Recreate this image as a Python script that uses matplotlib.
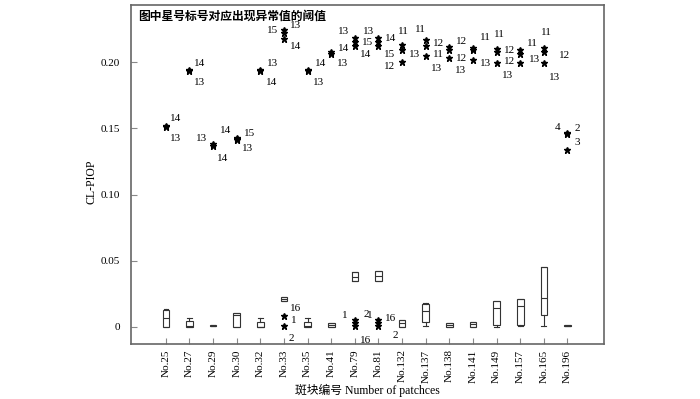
import matplotlib
matplotlib.use("Agg")
import matplotlib.pyplot as plt

plt.rcParams['font.family'] = ['Liberation Serif', 'Noto Sans CJK SC']
plt.rcParams['font.size'] = 8

patches = ['No.25', 'No.27', 'No.29', 'No.30', 'No.32', 'No.33', 'No.35', 'No.41', 'No.79',
           'No.81', 'No.132', 'No.137', 'No.138', 'No.141', 'No.149', 'No.157', 'No.165', 'No.196']

# box statistics
whislo = [0.0000, 0.0003, 0.0005, 0.0000, 0.0000, 0.0200, 0.0003, 0.0003, 0.0345,
          0.0345, 0.0003, 0.0008, 0.0003, 0.0003, 0.0000, 0.0010, 0.0010, 0.0005]
q1 = [0.0003, 0.0003, 0.0005, 0.0001, 0.0001, 0.0200, 0.0003, 0.0003, 0.0345,
      0.0345, 0.0003, 0.0040, 0.0003, 0.0003, 0.0015, 0.0015, 0.0090, 0.0005]
med = [0.0068, 0.0004, 0.0010, 0.0092, 0.0002, 0.0212, 0.0004, 0.0015, 0.0380,
       0.0385, 0.0028, 0.0120, 0.0018, 0.0025, 0.0141, 0.0160, 0.0220, 0.0010]
q3 = [0.0125, 0.0045, 0.0015, 0.0108, 0.0035, 0.0225, 0.0040, 0.0030, 0.0415,
      0.0420, 0.0050, 0.0175, 0.0033, 0.0040, 0.0196, 0.0210, 0.0452, 0.0015]
whishi = [0.0135, 0.0070, 0.0015, 0.0108, 0.0070, 0.0225, 0.0070, 0.0030, 0.0415,
          0.0420, 0.0050, 0.0180, 0.0033, 0.0040, 0.0196, 0.0210, 0.0452, 0.0015]

# outliers: (patch index, value, label)
outliers = [
    (0, 0.1520, '14'), (0, 0.1510, '13'),
    (1, 0.1940, '14'), (1, 0.1930, '13'),
    (2, 0.1380, '13'), (2, 0.1370, '14'),
    (3, 0.1430, '14'), (3, 0.1420, '15'), (3, 0.1410, '13'),
    (4, 0.1940, '13'), (4, 0.1930, '14'),
    (5, 0.2240, '15'), (5, 0.2217, '13'), (5, 0.2172, '14'),
    (5, 0.0083, '1'), (5, 0.0008, '2'),
    (6, 0.1940, '14'), (6, 0.1930, '13'),
    (7, 0.2075, '14'), (7, 0.2065, '13'),
    (8, 0.2180, '13'), (8, 0.2150, '15'), (8, 0.2120, '14'),
    (8, 0.0055, '1'), (8, 0.0030, '2'), (8, 0.0010, '16'),
    (9, 0.2180, '13'), (9, 0.2150, '14'), (9, 0.2120, '15'),
    (9, 0.0055, '1'), (9, 0.0030, '16'), (9, 0.0010, '2'),
    (10, 0.2126, '11'), (10, 0.2089, '13'), (10, 0.1998, '12'),
    (11, 0.2164, '11'), (11, 0.2119, '12'), (11, 0.2043, '13'),
    (12, 0.2111, '12'), (12, 0.2089, '11'), (12, 0.2028, '13'),
    (13, 0.2110, '11'), (13, 0.2090, '12'), (13, 0.2013, '13'),
    (14, 0.2096, '11'), (14, 0.2074, '12'), (14, 0.1990, '13'),
    (15, 0.2089, '11'), (15, 0.2058, '12'), (15, 0.1990, '13'),
    (16, 0.2110, '11'), (16, 0.2080, '12'), (16, 0.1990, '13'),
    (17, 0.1465, '4'), (17, 0.1455, '2'), (17, 0.1340, '3'),
]
# label offsets in points, same order as outliers
label_offsets = [
    (3, 5), (3, -8),
    (3, 5), (3, -8),
    (-12, 4), (3, -9),
    (-12, 5), (5, 4), (4, -6),
    (5, 5), (4, -8),
    (-12, 0), (4, 6), (4, -5),
    (5, -3), (3, -9),
    (5, 5), (4, -8),
    (5, 3), (4, -7),
    (-12, 5), (5, 0), (4, -6),
    (-9, 3), (6, 6), (4, -11),
    (-11, 5), (5, 3), (4, -6),
    (-8, 3), (5, 3), (10, -7),
    (-3, 10), (5, -3), (-13, -3),
    (-8, 8), (5, 2), (4, -9),
    (5, 4), (-12, -3), (4, -9),
    (5, 7), (-12, -6), (5, -2),
    (-2, 11), (5, 1), (4, -9),
    (5, 5), (-12, -5), (6, 3),
    (-2, 11), (11, -3), (4, -10),
    (-9, 4), (5, 4), (5, 5),
]
box_label = (5, 0.0212, '16')

fig = plt.figure(figsize=(7, 3.99), dpi=100)
ax = fig.add_axes([0.187, 0.138, 0.676, 0.849])

stats = []
for i in range(len(patches)):
    stats.append(dict(whislo=whislo[i], q1=q1[i], med=med[i], q3=q3[i], whishi=whishi[i], fliers=[]))

edge = '#333333'
ax.bxp(stats, positions=range(len(patches)), widths=0.28, patch_artist=True,
       boxprops=dict(facecolor='white', edgecolor=edge, linewidth=0.8),
       medianprops=dict(color=edge, linewidth=0.8),
       whiskerprops=dict(color=edge, linewidth=0.8),
       capprops=dict(color=edge, linewidth=0.8), capwidths=0.2, showfliers=False)

for (i, v, lab), (dx, dy) in zip(outliers, label_offsets):
    ax.plot(i, v, marker='*', color='black', markersize=5, linestyle='none')
    ax.annotate(lab, (i, v), xytext=(dx, dy), textcoords='offset points',
                fontsize=8, ha='left', va='center')
ax.annotate(box_label[2], (box_label[0], box_label[1]), xytext=(4, -7),
            textcoords='offset points', fontsize=8, ha='left', va='center')

ax.text(0.015, 0.985, '图中星号标号对应出现异常值的阈值', transform=ax.transAxes,
        fontsize=8.5, fontweight='bold', va='top', ha='left')

ax.set_xlim(-1.48, 18.55)
ax.set_ylim(-0.0128, 0.243)
ax.set_xticks(range(len(patches)))
ax.set_xticklabels(patches, rotation=90)
ax.set_yticks([0, 0.05, 0.10, 0.15, 0.20])
ax.set_yticklabels(['0', '0.05', '0.10', '0.15', '0.20'])
ax.tick_params(direction='in', length=4, color='#888888', labelsize=8)
ax.tick_params(axis='y', pad=8)
ax.tick_params(axis='x', pad=4)
for s in ax.spines.values():
    s.set_color('#666666')
    s.set_linewidth(1.2)

ax.set_ylabel('CL-PIOP', fontsize=8.5)
ax.yaxis.set_label_coords(-0.07, 0.48)
ax.set_xlabel('斑块编号 Number of patchces', fontsize=8.5, labelpad=1)

fig.savefig('out.png', dpi=100)
